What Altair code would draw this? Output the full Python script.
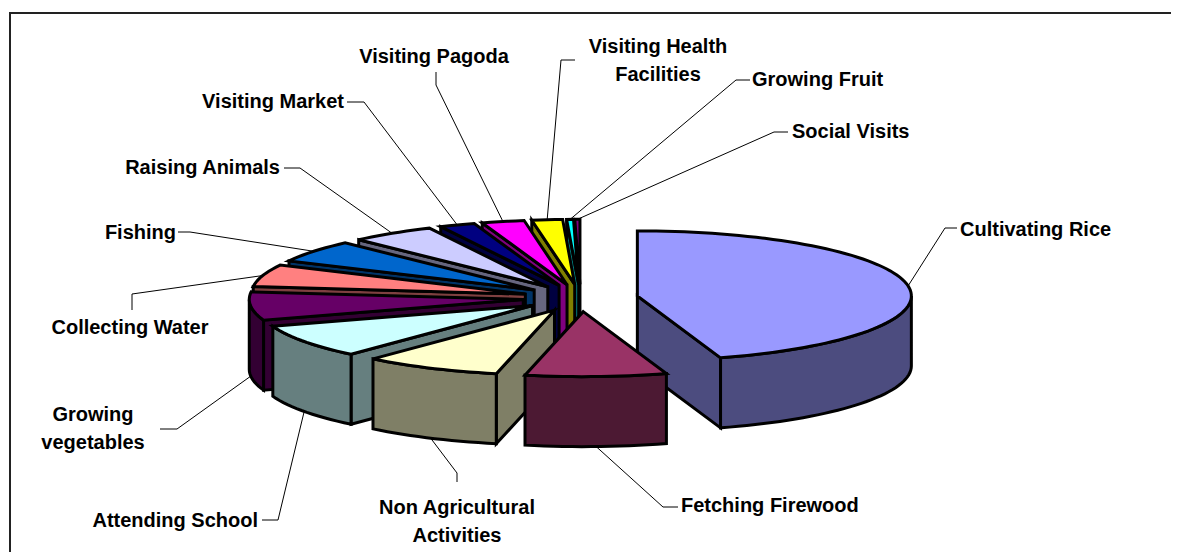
import math
import altair as alt

categories = ["Cultivating Rice", "Fetching Firewood", "Non Agricultural\nActivities",
              "Attending School", "Growing\nvegetables", "Collecting Water", "Fishing",
              "Raising Animals", "Visiting Market", "Visiting Pagoda",
              "Visiting Health\nFacilities", "Growing Fruit", "Social Visits"]
shares = [45.0, 8.3, 8.1, 8.3, 7.0, 5.5, 5.5, 5.0, 2.1, 2.5, 1.8, 0.4, 0.3]
colors = ["#9999FF", "#993366", "#FFFFCC", "#CCFFFF", "#660066", "#FF8080", "#0066CC",
          "#CCCCFF", "#000080", "#FF00FF", "#FFFF00", "#00FFFF", "#800080"]

# pie geometry (page pixels)
CX, CY, RX, RY, DEPTH, EXPLODE = 580.5, 298, 274, 65, 70, 0.21
W, H = 1163, 544

# label layout: anchor x, anchor y, align, and leader-line bend points
layout = {
    "Cultivating Rice": (960, 230, "left", [(945, 228), (957, 228)]),
    "Fetching Firewood": (681, 506, "left", [(663, 507), (678, 507)]),
    "Non Agricultural\nActivities": (457, 508, "center", [(457, 473), (457, 482)]),
    "Attending School": (258, 521, "right", [(278, 520), (262, 520)]),
    "Growing\nvegetables": (93, 415, "center", [(177, 429), (160, 429)]),
    "Collecting Water": (130, 328, "center", [(132, 294), (132, 310)]),
    "Fishing": (176, 233, "right", [(190, 232), (178, 232)]),
    "Raising Animals": (280, 168, "right", [(300, 168), (284, 168)]),
    "Visiting Market": (344, 102, "right", [(364, 102), (347, 102)]),
    "Visiting Pagoda": (434, 57, "center", [(436, 85), (436, 72)]),
    "Visiting Health\nFacilities": (658, 47, "center", [(561, 60), (575, 60)]),
    "Growing Fruit": (752, 80, "left", [(736, 80), (750, 80)]),
    "Social Visits": (792, 132, "left", [(774, 132), (788, 132)]),
}
frame_line = [(10, 552), (10, 13), (1179, 13)]


def darken(c):
    r, g, b = [int(c[i:i + 2], 16) // 2 for i in (1, 3, 5)]
    return f"#{r:02x}{g:02x}{b:02x}"


def feature(points, fill, kind="Polygon"):
    coords = [[x, y] for x, y in points]
    if kind == "Polygon":
        coords = [coords + [coords[0]]]
    return {"type": "Feature", "properties": {"fill": fill},
            "geometry": {"type": kind, "coordinates": coords}}


total = sum(shares)
slices = []
start = 0.0
for name, share, col in zip(categories, shares, colors):
    end = start + share / total * 360
    slices.append((name, start, end, col))
    start = end


def rim(cx, cy, a):
    t = math.radians(a)
    return cx + RX * math.sin(t), cy - RY * math.cos(t)


def down(p):
    return p[0], p[1] + DEPTH


def arc(cx, cy, a0, a1):
    n = max(2, int((a1 - a0) / 2) + 2)
    return [rim(cx, cy, a0 + (a1 - a0) * i / (n - 1)) for i in range(n)]


shapes = []
for name, a0, a1, col in sorted(slices, key=lambda s: -math.cos(math.radians((s[1] + s[2]) / 2))):
    mid = math.radians((a0 + a1) / 2)
    cx = CX + EXPLODE * RX * math.sin(mid)
    cy = CY - EXPLODE * RY * math.cos(mid)
    apex = (cx, cy)
    side = darken(col)
    if 180 < a0 < 360:
        p = rim(cx, cy, a0)
        shapes.append(feature([apex, p, down(p), down(apex)], side))
    if 0 < a1 < 180:
        p = rim(cx, cy, a1)
        shapes.append(feature([apex, p, down(p), down(apex)], side))
    lo, hi = max(a0, 90), min(a1, 270)
    if lo < hi:
        top_edge = arc(cx, cy, lo, hi)
        shapes.append(feature(top_edge + [down(p) for p in reversed(top_edge)], side))
    shapes.append(feature([apex] + arc(cx, cy, a0, a1), col))

leaders = []
labels = []
for name, a0, a1, col in slices:
    mid = math.radians((a0 + a1) / 2)
    cx = CX + EXPLODE * RX * math.sin(mid)
    cy = CY - EXPLODE * RY * math.cos(mid)
    ax, ay, align, bends = layout[name]
    start_pt = rim(cx, cy, (a0 + a1) / 2)
    if math.cos(mid) < 0:
        start_pt = down(start_pt)
    leaders.append(feature([start_pt] + bends, "none", "LineString"))
    labels.append({"label": name, "lon": ax, "lat": ay, "align": align})

projection = alt.Projection(type="identity", scale=1, translate=[-8, -8])

frame = alt.Chart(alt.Data(values=[feature(frame_line, "none", "LineString")])).mark_geoshape(
    filled=False, stroke="#222222", strokeWidth=2
).project(**projection.to_dict())

lead = alt.Chart(alt.Data(values=leaders)).mark_geoshape(
    filled=False, stroke="#000000", strokeWidth=1
).project(**projection.to_dict())

pie = alt.Chart(alt.Data(values=shapes)).mark_geoshape(
    stroke="#000000", strokeWidth=3, strokeJoin="miter"
).encode(fill=alt.Fill("properties.fill:N", scale=None, legend=None)).project(**projection.to_dict())

text_layers = []
for al in ("left", "center", "right"):
    rows = [r for r in labels if r["align"] == al]
    text_layers.append(
        alt.Chart(alt.Data(values=rows)).mark_text(
            font="Liberation Sans", fontWeight="bold", fontSize=20, align=al,
            baseline="middle", lineBreak="\n", lineHeight=28, color="#000000"
        ).encode(longitude="lon:Q", latitude="lat:Q", text="label:N").project(**projection.to_dict())
    )

chart = alt.layer(frame, lead, pie, *text_layers).properties(
    width=W, height=H, padding=0, autosize=alt.AutoSizeParams(type="none"), background="white"
).configure_view(stroke=None)

chart.save("out.html", embed_options={"renderer": "svg", "actions": False})
